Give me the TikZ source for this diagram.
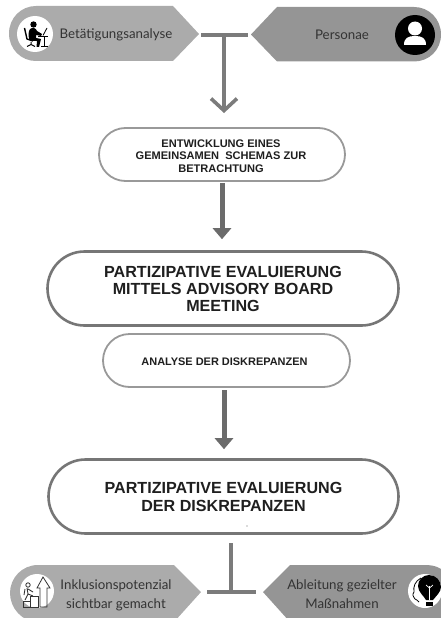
\documentclass[tikz,border=0pt]{standalone}
\usepackage{fontspec}
\setmainfont{Liberation Sans}
\newfontfamily\softfont{Lato}
\usetikzlibrary{shapes.misc,arrows.meta}
\definecolor{penta}{HTML}{ABABAB}
\definecolor{pentb}{HTML}{959595}
\definecolor{lineA}{HTML}{999999}
\definecolor{lineB}{HTML}{767676}
\definecolor{conn}{HTML}{7B7B7B}
\definecolor{txtg}{HTML}{333333}
\tikzset{
  pill/.style={rounded rectangle,draw=lineA,line width=1.8pt,fill=white,inner sep=0pt,align=center,font=\bfseries,text=black!88},
  bigpill/.style={pill,draw=lineB,line width=2.6pt},
  tag/.style={font=\softfont\fontsize{13.3}{19}\selectfont,text=txtg,align=center,inner sep=0pt},
  bar/.style={draw=conn,line width=3.4pt},
  chev/.style={draw=conn,line width=3.6pt,-{Straight Barb[length=12pt,width=26pt,line width=3.6pt]}},
  fat/.style={draw=black!58,line width=5pt,-{Triangle[length=11pt,width=18pt]}},
  badge/.style={circle,fill=white,draw=none,minimum size=36pt,inner sep=0pt},
  blackbadge/.style={circle,fill=black,draw=none,minimum size=40pt,inner sep=0pt},
}
\begin{document}
\begin{tikzpicture}[x=1pt,y=-1pt]
\useasboundingbox (0,0) rectangle (441,618);
\begin{scope}
\clip (0,0) rectangle (441,618);
% tag shapes
\fill[penta] (36,6) -- (173,6) -- (199,34) -- (173,61) -- (36,61) .. controls (21,61) and (9,49) .. (9,33.5) .. controls (9,18) and (21,6) .. (36,6) -- cycle;
\fill[pentb] (251,34.5) -- (277,7) -- (414,7) .. controls (429,7) and (441,19) .. (441,34.5) .. controls (441,50) and (429,61.5) .. (414,61.5) -- (277,61.5) -- cycle;
\fill[penta] (38,565) -- (174,565) -- (201,592) -- (174,622) -- (38,622) .. controls (22,622) and (10,608) .. (10,593) .. controls (10,578) and (22,565) .. (38,565) -- cycle;
\fill[pentb] (263,592) -- (290,565) -- (425,565) .. controls (435,565) and (441,568) .. (445,572) -- (445,622) -- (290,622) -- cycle;
\end{scope}
% tag labels
\node[tag] (betae) at (116,34.5) {Betätigungsanalyse};
\node[tag] (pers) at (342,35) {Personae};
\node[tag] (inkl) at (116,595) {Inklusionspotenzial\\sichtbar gemacht};
\node[tag] (ableit) at (342,594) {Ableitung gezielter\\Maßnahmen};
% badges
\node[badge] (bdesk) at (35,34) {};
\node[blackbadge] (bpers) at (415,35) {};
\node[badge,minimum size=34pt] (bstairs) at (37,591) {};
\node[badge,minimum size=34pt] (bbulb) at (425,591) {};
% desk worker icon
\fill[black] (33.5,24.5) circle (3.2);
\fill[black] (30,29) .. controls (33,27) and (36,28) .. (37,31) -- (42,34) -- (41,36) -- (36,35) -- (36,38) -- (41,39) -- (39,47) -- (36.5,47) -- (37,41) -- (30,41) .. controls (28,37) and (28,32) .. (30,29) -- cycle;
\draw[black,line width=1.4pt] (24.5,28) -- (27,39) -- (33,41);
\draw[black,line width=1pt] (31,42) -- (31,45) (27,46.5) -- (31,44.5) -- (35,46.5);
\draw[black,line width=1.2pt] (38,36.5) -- (48,36.5) (44.5,36.5) -- (44.5,46) (41,46.5) -- (48,46.5);
\draw[black,line width=0.8pt] (43,35.5) -- (47,28);
% person icon
\fill[white] (415,28.5) circle (7);
\fill[white] (404,45) .. controls (404,38) and (408,36) .. (415,36) .. controls (422,36) and (426,38) .. (426,45) -- cycle;
% stairs icon
\draw[black!80,line width=0.8pt] (23,607) rectangle (30,601) (30,607) rectangle (38,596);
\draw[black!80,line width=0.8pt] (40,607) -- (40,588) -- (37,588) -- (43,577) -- (50,588) -- (47,588) -- (47,607) -- cycle;
\draw[black!80,line width=0.8pt] (28,585) circle (2.2);
\draw[black!80,line width=0.9pt] (27,588) -- (28,594) -- (25,600) (28,594) -- (33,596) (28,589) -- (33,592) (25,589) -- (24,595);
% head and bulb icon
\draw[black,line width=0.8pt] (419,602) .. controls (418,600) and (416,600) .. (415,599) .. controls (413,596) and (412,595) .. (414,592) .. controls (413,587) and (415,581) .. (421,578);
\fill[black] (429,575) .. controls (436,575) and (441,581) .. (441,587) .. controls (441,592) and (436,596) .. (433,600) -- (426,600) .. controls (424,596) and (418,592) .. (418,586) .. controls (418,580) and (423,575) .. (429,575) -- cycle;
\fill[black] (426,601.5) rectangle (433,606);
\draw[white,line width=0.7pt] (429.5,600) -- (429.5,586) (426,585) -- (429.5,588) -- (433,585);
% pills
\node[pill,minimum width=246pt,minimum height=53pt] (schema) at (222,154.5) {};
\node[font=\bfseries\fontsize{11.05}{12.3}\selectfont,align=center,inner sep=0pt,text=black!88] (schematext) at (221,156) {ENTWICKLUNG EINES\\GEMEINSAMEN \ SCHEMAS ZUR\\BETRACHTUNG};
\node[bigpill,minimum width=351pt,minimum height=74pt,font=\bfseries\fontsize{16.1}{17}\selectfont] (board) at (223,288.5) {PARTIZIPATIVE EVALUIERUNG\\MITTELS ADVISORY BOARD\\MEETING};
\node[pill,minimum width=247pt,minimum height=53pt,font=\bfseries\fontsize{10.95}{12}\selectfont] (analyse) at (226.5,360.5) {};
\node[font=\bfseries\fontsize{10.95}{12}\selectfont,inner sep=0pt,text=black!88] (analysetext) at (224.5,361.5) {ANALYSE DER DISKREPANZEN};
\node[bigpill,minimum width=350pt,minimum height=74pt,font=\bfseries\fontsize{16.1}{18}\selectfont] (eval) at (223.5,496.5) {PARTIZIPATIVE EVALUIERUNG\\DER DISKREPANZEN};
\fill[black!60] (247,526) circle (0.6);
% top T connector
\coordinate (tl) at (201,35);
\coordinate (tr) at (248,35);
\coordinate (tj) at (224,35);
\coordinate (tb) at (224,113);
\draw[bar] (tl) -- (tr);
\draw[chev] (tj) -- (tb);
% straight arrows
\draw[fat,shorten <=1pt,shorten >=11pt] (schema.south) -- (schema.south |- board.north);
\coordinate (a3s) at (224,387);
\draw[fat,shorten <=3pt,shorten >=9pt] (a3s) -- (a3s |- eval.north);
% bottom T connector
\coordinate (bt) at (231,543);
\coordinate (bj) at (231,592);
\coordinate (bl) at (207,592);
\coordinate (br) at (256,592);
\draw[bar] (bt) -- (bj);
\draw[bar] (bl) -- (br);
\end{tikzpicture}
\end{document}
